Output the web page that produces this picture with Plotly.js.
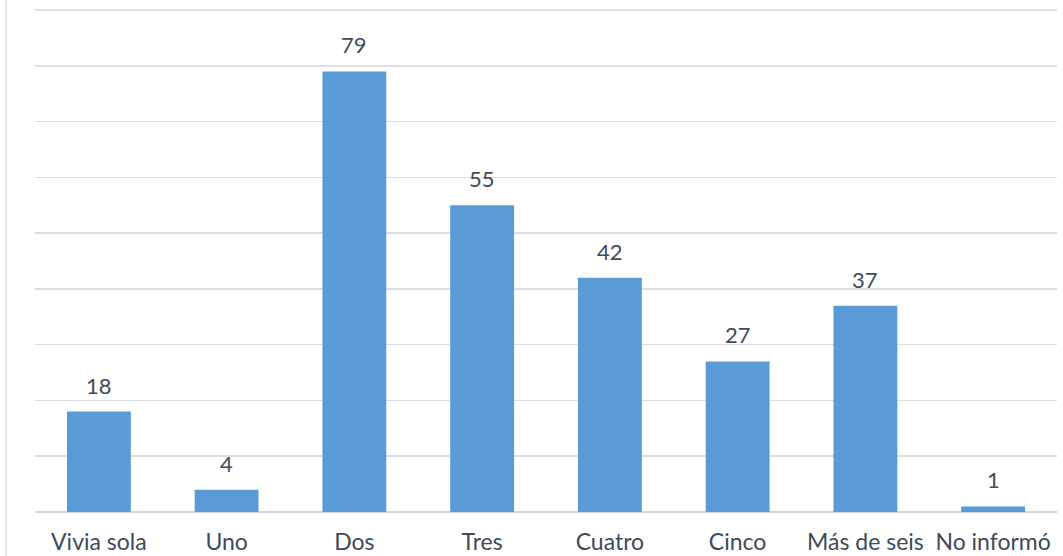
<!DOCTYPE html>
<html>
<head>
<meta charset="utf-8">
<script src="https://cdn.plot.ly/plotly-3.0.1.min.js"></script>
<style>html,body{margin:0;padding:0;background:#fff;}#chart{width:1063px;height:556px;}</style>
</head>
<body>
<div id="chart"></div>
<script>
const categories = ["Vivia sola", "Uno", "Dos", "Tres", "Cuatro", "Cinco", "Más de seis", "No informó"];
const values = [18, 4, 79, 55, 42, 27, 37, 1];

const textColor = "#404a5a";
const fontFamily = "Lato, 'Open Sans', 'Noto Sans', sans-serif";

const trace = {
  type: "bar",
  x: categories,
  y: values,
  marker: {color: "#5a9ad7"},
  hoverinfo: "x+y"
};

const annotations = categories.map((c, i) => ({
  x: c, y: values[i], xref: "x", yref: "y",
  text: String(values[i]), showarrow: false,
  yanchor: "bottom", yshift: 11,
  font: {family: fontFamily, size: 22, color: textColor}
}));

const layout = {
  width: 1063, height: 556,
  margin: {l: 35, r: 6, t: 9, b: 44},
  paper_bgcolor: "#fff", plot_bgcolor: "#fff",
  bargap: 0.5,
  showlegend: false,
  font: {family: fontFamily, color: textColor},
  xaxis: {
    type: "category",
    showgrid: false, zeroline: false, showline: false,
    ticks: "", ticklabelstandoff: 14,
    tickfont: {family: fontFamily, size: 23, color: textColor}
  },
  yaxis: {
    range: [0, 90.2], dtick: 10, tick0: 0,
    showgrid: true, gridcolor: "#dcdee3", gridwidth: 1.5,
    zeroline: true, zerolinecolor: "#d4d6db", zerolinewidth: 1.5,
    showticklabels: false, ticks: "", showline: false
  },
  annotations: annotations,
  shapes: [{
    type: "line", xref: "paper", yref: "paper",
    x0: -29/1022, x1: -29/1022, y0: -1, y1: 2,
    line: {color: "#dcdee3", width: 1.5}
  }]
};

Plotly.newPlot("chart", [trace], layout, {displayModeBar: false, staticPlot: true});
</script>
</body>
</html>
